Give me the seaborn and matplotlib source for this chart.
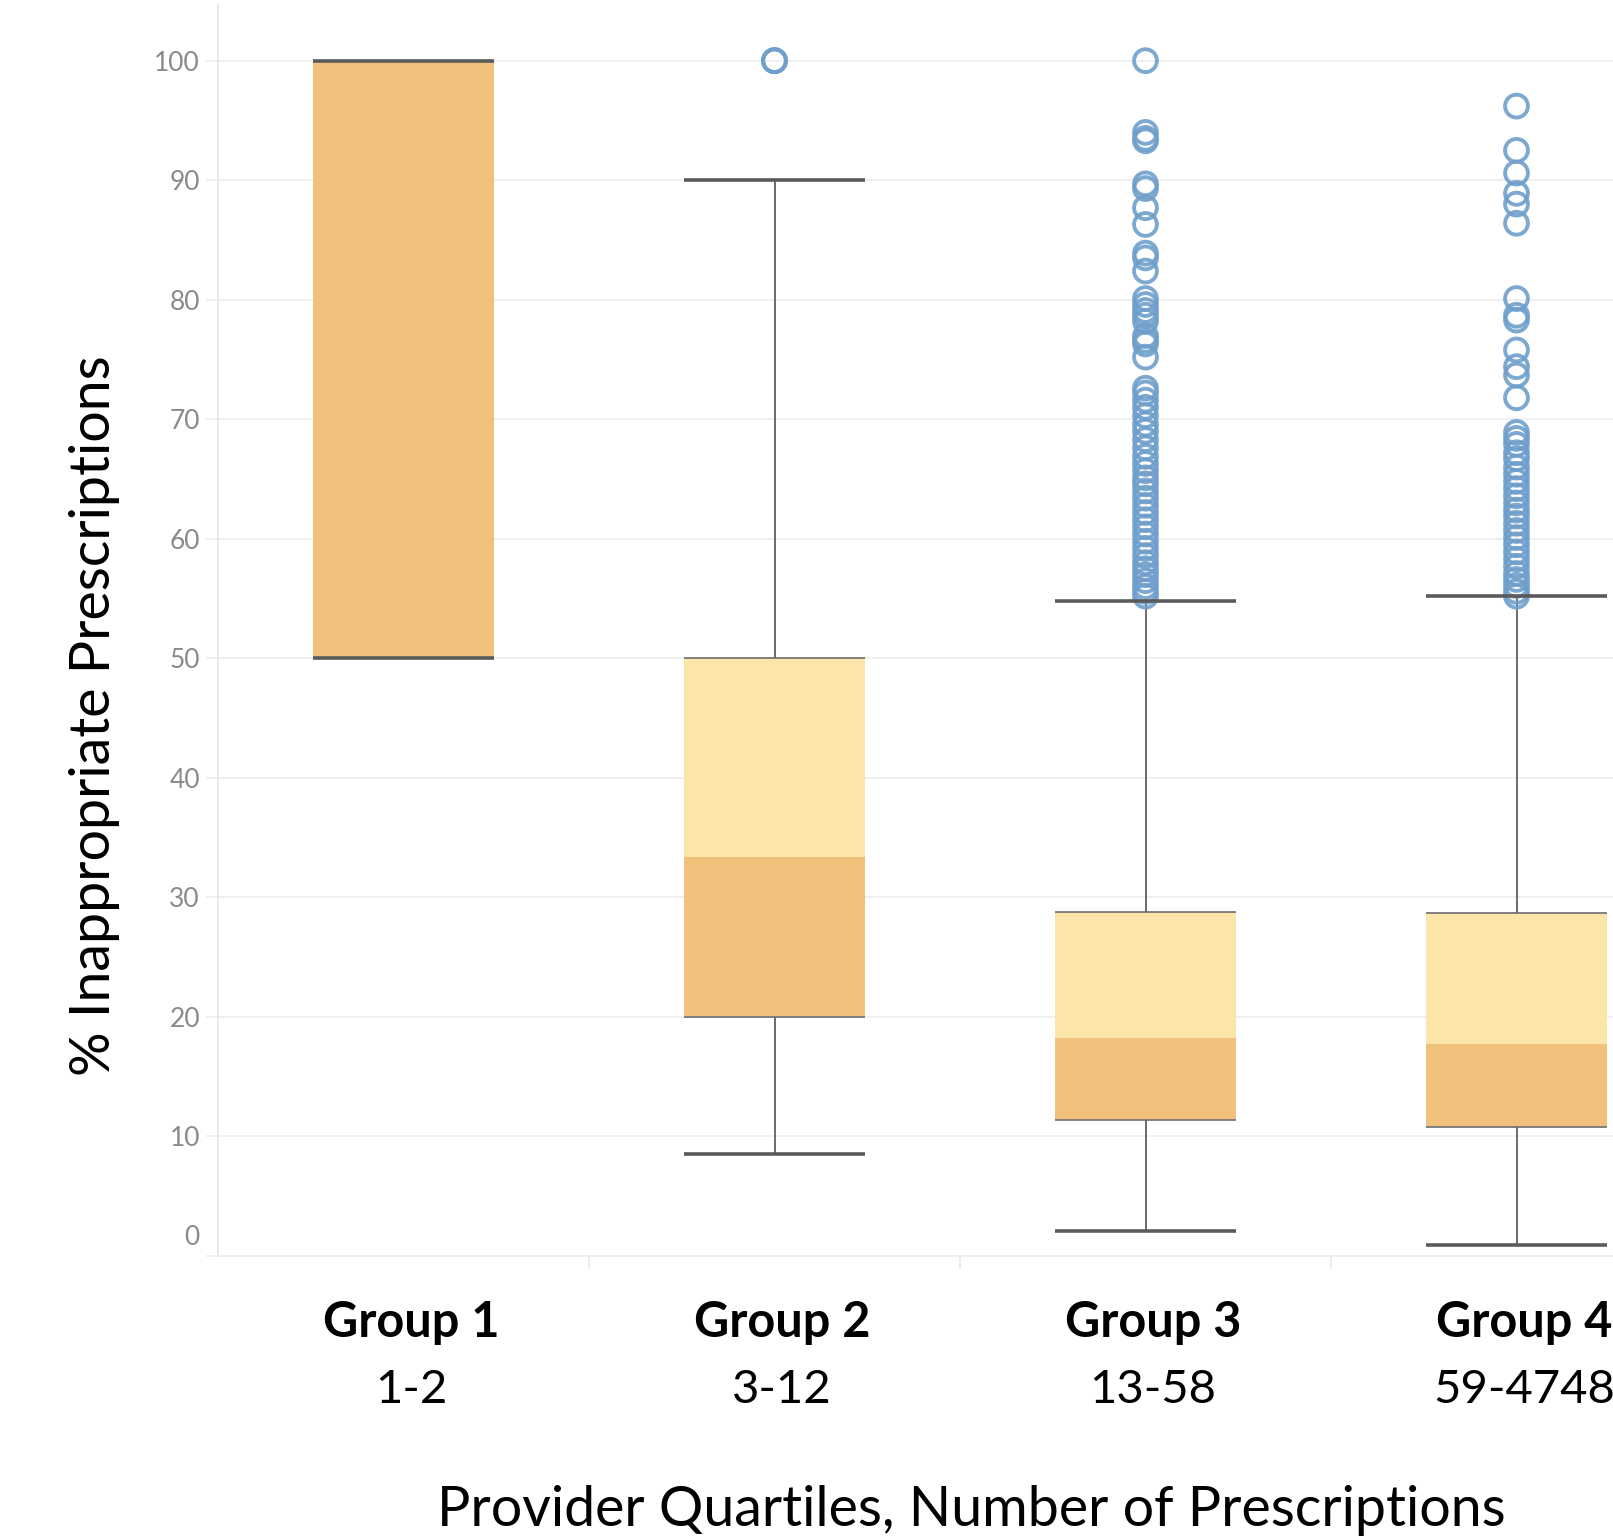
import numpy as np
import pandas as pd
import matplotlib
matplotlib.use("Agg")
import matplotlib.pyplot as plt
import matplotlib.transforms as mtransforms
import seaborn as sns

# Box plot summary
groups = ["Group 1", "Group 2", "Group 3", "Group 4"]
ranges = ["1-2", "3-12", "13-58", "59-4748"]
whisker_low = [50.0, 8.5, 2.1, 0.9]
q1 = [50.0, 20.0, 11.4, 10.8]
median = [100.0, 33.4, 18.2, 17.7]
q3 = [100.0, 50.0, 28.8, 28.7]
whisker_high = [100.0, 90.0, 54.8, 55.2]

# Outliers per group
outliers_g1 = []
outliers_g2 = [100.0, 100.0, 100.0]
outliers_g3 = [100.0, 94.0, 93.5, 93.3, 89.7, 89.3, 87.7, 86.3, 83.9, 83.5, 82.4,
               80.1, 79.6, 79.1, 78.7, 78.2, 77.0, 76.6, 76.3, 75.2, 72.6, 72.2,
               71.6, 71.0, 70.3, 69.6, 69.0, 68.3, 67.6, 66.9, 66.3, 65.7, 65.1,
               64.6, 64.0, 63.4, 62.8, 62.2, 61.6, 61.0, 60.4, 59.8, 59.2, 58.6,
               58.0, 57.5, 57.0, 56.5, 56.0, 55.6, 55.2]
outliers_g4 = [96.2, 92.5, 90.6, 88.9, 88.0, 86.4, 80.1, 78.7, 78.3, 75.8, 74.4,
               73.7, 71.8, 68.9, 68.4, 67.9, 67.2, 66.7, 66.0, 65.4, 64.8, 64.2,
               63.6, 63.0, 62.4, 61.9, 61.3, 60.7, 60.1, 59.5, 58.9, 58.3, 57.7,
               57.1, 56.6, 56.1, 55.6, 55.2]

outliers = pd.DataFrame({
    "pos": [0] * len(outliers_g1) + [1] * len(outliers_g2)
           + [2] * len(outliers_g3) + [3] * len(outliers_g4),
    "value": outliers_g1 + outliers_g2 + outliers_g3 + outliers_g4,
})

dark_orange = "#f1c17b"
light_yellow = "#fbe5a9"
ring_blue = "#6f9fcb"
line_gray = "#5a5a5a"

sns.set_theme(style="white")
plt.rcParams["font.family"] = ["Lato", "DejaVu Sans"]

fig = plt.figure(figsize=(16.13, 15.37), dpi=100)
ax = fig.add_axes([0.13515, 0.18283, 0.92003, 0.81393])

pos = np.arange(len(groups))
w = 0.49

# box halves
ax.bar(pos, np.array(median) - np.array(q1), bottom=q1, width=w,
       color=dark_orange, linewidth=0, zorder=2)
ax.bar(pos, np.array(q3) - np.array(median), bottom=median, width=w,
       color=light_yellow, linewidth=0, zorder=2)
ax.hlines(q1, pos - w / 2, pos + w / 2, color="#777777", lw=1.3, zorder=3)
ax.hlines(q3, pos - w / 2, pos + w / 2, color="#777777", lw=1.3, zorder=3)

# whiskers and caps
ax.vlines(pos, whisker_low, q1, color="#6a6a6a", lw=1.4, zorder=3)
ax.vlines(pos, q3, whisker_high, color="#6a6a6a", lw=1.4, zorder=3)
ax.hlines(whisker_low, pos - w / 2, pos + w / 2, color=line_gray, lw=2.6, zorder=4)
ax.hlines(whisker_high, pos - w / 2, pos + w / 2, color=line_gray, lw=2.6, zorder=4)

# outliers
sns.scatterplot(data=outliers, x="pos", y="value", ax=ax, marker="o", s=270,
                facecolor="none", edgecolor=ring_blue, linewidth=2.8,
                alpha=0.9, zorder=3, legend=False)

ax.set_xlim(-0.5, 3.5)
ax.set_ylim(0, 104.66)
ax.set_yticks(np.arange(0, 101, 10))
ax.set_xticks(pos)
ax.set_xticklabels([])
ax.set_xticks([0.5, 1.5, 2.5], minor=True)
ax.tick_params(axis="x", which="major", length=0)
ax.tick_params(axis="x", which="minor", length=9, width=1.2, color="#e8e8e8",
               bottom=True)
ax.tick_params(axis="y", length=9, width=1.2, color="#ececec", pad=4,
               labelsize=19, labelcolor="#8a8a8a", left=True)
ax.yaxis.grid(True, color="#efefef", lw=1.4)
ax.set_axisbelow(True)
for s in ["top", "right"]:
    ax.spines[s].set_visible(False)
ax.spines["left"].set_color("#e6e6e6")
ax.spines["bottom"].set_color("#eeeeee")
ax.spines["left"].set_linewidth(1.2)
ax.spines["bottom"].set_linewidth(1.4)
ax.set_xlabel("")
ax.set_ylabel("")

# Tableau nudges the 0 label up inside the pane
zero_lbl = ax.get_yticklabels()[0]
zero_lbl.set_transform(zero_lbl.get_transform()
                       + mtransforms.ScaledTranslation(0, 21 / 100, fig.dpi_scale_trans))

# group labels
xform = ax.get_xaxis_transform()
for i in range(len(groups)):
    ax.text(pos[i] + 0.02, -0.0535, groups[i], transform=xform, ha="center",
            va="center", fontsize=35, fontweight="bold", color="black")
    ax.text(pos[i] + 0.02, -0.1075, ranges[i], transform=xform, ha="center",
            va="center", fontsize=34, color="black")

fig.text(971 / 1613, 1 - 1510 / 1537, "Provider Quartiles, Number of Prescriptions",
         ha="center", va="center", fontsize=40, color="black")
fig.text(95 / 1613, 1 - 716 / 1537, "% Inappropriate Prescriptions", rotation=90,
         ha="center", va="center", fontsize=40, color="black")

fig.savefig("out.png", dpi=100)
